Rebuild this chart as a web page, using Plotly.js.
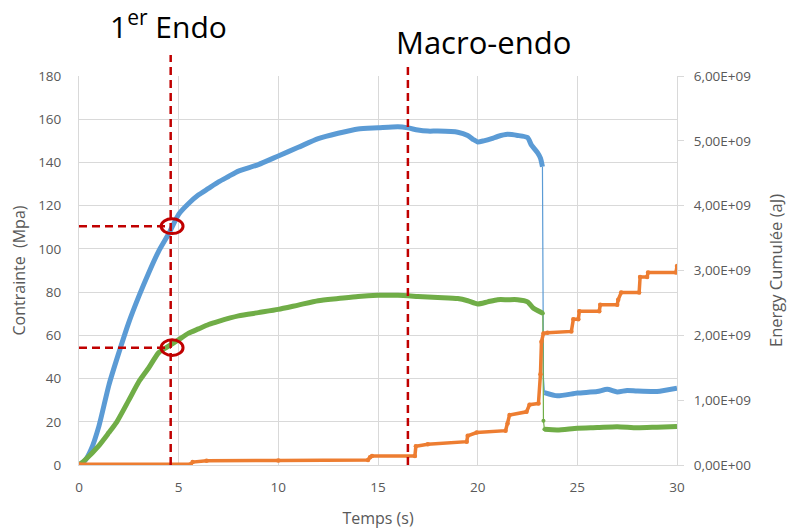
<!DOCTYPE html>
<html>
<head>
<meta charset="utf-8">
<script src="https://cdn.plot.ly/plotly-3.0.1.min.js"></script>
<style>html,body{margin:0;padding:0;background:#fff;}#chart{width:787px;height:530px;}</style>
</head>
<body>
<div id="chart"></div>
<script>
// Contrainte (blue) before the rupture
const blueT1 = [0,0.3,0.6,1,1.5,2,2.5,3,3.5,4,4.5,5,5.5,6,6.5,7,7.5,8,9,10,11,12,13,14,15,16,16.5,17,17.5,18,19,19.5,19.8,20,20.3,20.7,21,21.5,22,22.5,22.7,23,23.15,23.25];
const blueV1 = [0,2,7,18,37,52,66,78,89,99,107,116,121,125,128,131,133.5,136,139,143,147,151,153.5,155.5,156,156.5,156,155,154.5,154.5,154,152.5,150.5,149.5,150,151,152,153,152.5,151.5,148,144.5,142,138];
// Contrainte (blue) after the rupture
const blueT2 = [23.3,23.35,24,25,26,26.5,27,27.5,28,29,30];
const blueV2 = [40,33.5,32,33.3,34,35,33.8,34.5,34.2,34,35.5];
// second stress curve (green) before / after
const greenT1 = [0,0.3,1,1.5,1.9,2.5,3,3.5,4,4.5,5,5.5,6,6.5,7,8,9,10,11,12,13,14,15,16,17,18,19,19.5,20,20.5,21,21.5,22,22.5,22.8,23,23.27];
const greenV1 = [0,2.3,9,15,20,30,38.5,45,52,55,58,61,63,65,66.5,69,70.5,72,74,76,77,78,78.5,78.5,78,77.5,77,76,74.5,75.5,76.5,76.5,76.5,75.5,72.5,71.5,70.2];
const greenT2 = [23.3,23.35,24,25,26,27,28,29,30];
const greenV2 = [20.5,16.5,16.2,17,17.3,17.7,17.2,17.5,17.8];
// Energy cumulée (orange), aJ
const orangeT = [0,5.6,5.7,6.4,10,14.5,14.6,14.7,16.85,16.9,17.5,19.45,19.5,19.95,21.4,21.5,21.6,22.45,22.6,23.05,23.15,23.2,23.3,23.5,24.7,24.8,25.05,25.1,26.1,26.15,27.0,27.05,27.2,28.1,28.15,28.5,28.55,29.95,30];
const orangeV = [0.01e9,0.01e9,0.045e9,0.066e9,0.07e9,0.077e9,0.12e9,0.14e9,0.14e9,0.29e9,0.32e9,0.36e9,0.45e9,0.50e9,0.53e9,0.64e9,0.77e9,0.82e9,0.93e9,0.95e9,1.40e9,1.90e9,2.03e9,2.04e9,2.06e9,2.25e9,2.25e9,2.37e9,2.37e9,2.47e9,2.47e9,2.55e9,2.66e9,2.66e9,2.90e9,2.90e9,2.97e9,2.97e9,3.07e9];
// axis ticks
const xTicks = [0,5,10,15,20,25,30];
const yTicks = [0,20,40,60,80,100,120,140,160,180];
const y2Ticks = [0,1e9,2e9,3e9,4e9,5e9,6e9];
const y2Labels = ['0,00E+00','1,00E+09','2,00E+09','3,00E+09','4,00E+09','5,00E+09','6,00E+09'];
// event markers
const endoT = 4.6, macroT = 16.5;
const endoBlue = 110.5, endoGreen = 54.3;

const BLUE = '#5B9BD5', GREEN = '#70AD47', ORANGE = '#ED7D31', RED = '#C00000';
const FONT = 'Open Sans, Noto Sans, sans-serif';

const traces = [
  {x: [blueT1[blueT1.length-1], blueT2[0], blueT2[1]], y: [blueV1[blueV1.length-1], blueV2[0], blueV2[1]], mode: 'lines', line: {color: BLUE, width: 1.2}, yaxis: 'y', showlegend: false, hoverinfo: 'skip'},
  {x: [greenT1[greenT1.length-1], greenT2[0], greenT2[1]], y: [greenV1[greenV1.length-1], greenV2[0], greenV2[1]], mode: 'lines+markers', marker: {size: 4, color: GREEN}, line: {color: GREEN, width: 1.2}, yaxis: 'y', showlegend: false, hoverinfo: 'skip'},
  {x: blueT1, y: blueV1, mode: 'lines', line: {color: BLUE, width: 5, shape: 'spline', smoothing: 0.6}, yaxis: 'y', showlegend: false},
  {x: blueT2.slice(1), y: blueV2.slice(1), mode: 'lines', line: {color: BLUE, width: 5, shape: 'spline', smoothing: 0.6}, yaxis: 'y', showlegend: false},
  {x: greenT1, y: greenV1, mode: 'lines', line: {color: GREEN, width: 5, shape: 'spline', smoothing: 0.6}, yaxis: 'y', showlegend: false},
  {x: greenT2.slice(1), y: greenV2.slice(1), mode: 'lines', line: {color: GREEN, width: 5, shape: 'spline', smoothing: 0.6}, yaxis: 'y', showlegend: false},
  {x: orangeT, y: orangeV, mode: 'lines+markers', marker: {size: 4.5, color: ORANGE}, line: {color: ORANGE, width: 3.5}, yaxis: 'y2', showlegend: false}
];

const shapes = [
  {type: 'line', xref: 'x', yref: 'paper', x0: endoT, x1: endoT, y0: 0, y1: 1.054, line: {color: RED, width: 2.5, dash: '8px,5px'}},
  {type: 'line', xref: 'x', yref: 'paper', x0: macroT, x1: macroT, y0: 0, y1: 1.03, line: {color: RED, width: 2.5, dash: '8px,5px'}},
  {type: 'line', xref: 'x', yref: 'y', x0: 0, x1: endoT, y0: endoBlue, y1: endoBlue, line: {color: RED, width: 2.5, dash: '8px,5px'}},
  {type: 'line', xref: 'x', yref: 'y', x0: 0, x1: endoT, y0: endoGreen, y1: endoGreen, line: {color: RED, width: 2.5, dash: '8px,5px'}},
  {type: 'circle', xref: 'x', yref: 'y', x0: 4.12, x1: 5.22, y0: endoBlue-3.4, y1: endoBlue+3.4, line: {color: RED, width: 3}},
  {type: 'circle', xref: 'x', yref: 'y', x0: 4.12, x1: 5.22, y0: endoGreen-3.6, y1: endoGreen+3.6, line: {color: RED, width: 3}}
];

const layout = {
  width: 787, height: 530,
  margin: {l: 79, r: 110, t: 76, b: 65},
  paper_bgcolor: '#fff', plot_bgcolor: '#fff',
  font: {family: FONT, size: 13.5, color: '#595959'},
  showlegend: false,
  xaxis: {
    range: [0, 30], tickvals: xTicks, showgrid: true, gridcolor: '#d9d9d9', gridwidth: 1,
    showline: true, linecolor: '#d9d9d9', zeroline: false, ticks: '', ticklabelstandoff: 10,
    title: {text: 'Temps (s)', font: {size: 16, color: '#595959'}, standoff: 17}
  },
  yaxis: {
    range: [0, 180], tickvals: yTicks, showgrid: true, gridcolor: '#d9d9d9', gridwidth: 1,
    showline: true, linecolor: '#d9d9d9', zeroline: false, ticks: '', ticklabelstandoff: 14,
    title: {text: 'Contrainte\u00a0\u00a0(Mpa)', font: {size: 16, color: '#595959'}, standoff: 8}
  },
  yaxis2: {
    range: [0, 6e9], overlaying: 'y', side: 'right', tickvals: y2Ticks, ticktext: y2Labels,
    showgrid: false, zeroline: false, showline: true, linecolor: '#d9d9d9',
    ticks: 'outside', ticklen: 6, tickcolor: '#d9d9d9', ticklabelstandoff: 7,
    title: {text: 'Energy Cumulée (aJ)', font: {size: 16.5, color: '#595959'}, standoff: 20}
  },
  shapes: shapes,
  annotations: [
    {text: '1<sup>er</sup> Endo', xref: 'paper', yref: 'paper', x: (168-79)/598, y: 1 + (76-25)/389, xanchor: 'center', yanchor: 'middle', showarrow: false, font: {family: FONT, size: 30, color: '#000'}},
    {text: 'Macro-endo', xref: 'paper', yref: 'paper', x: (483-79)/598, y: 1 + (76-42)/389, xanchor: 'center', yanchor: 'middle', showarrow: false, font: {family: FONT, size: 31, color: '#000'}}
  ]
};

Plotly.newPlot('chart', traces, layout, {displayModeBar: false, staticPlot: true});
</script>
</body>
</html>
